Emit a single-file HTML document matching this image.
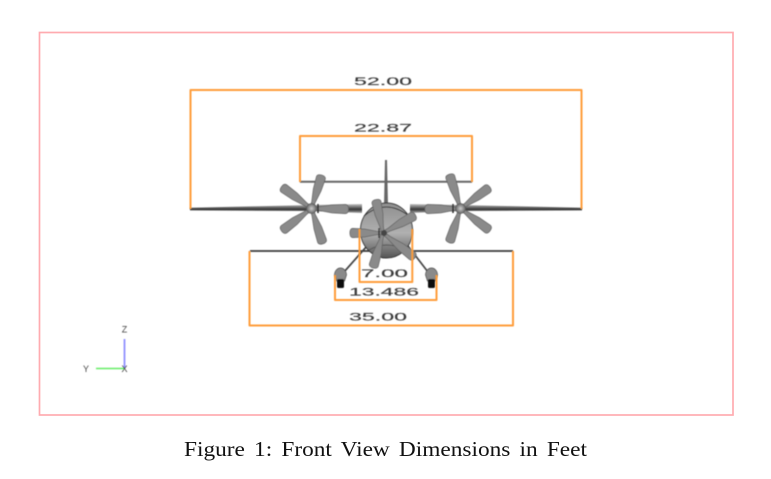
<!DOCTYPE html>
<html>
<head>
<meta charset="utf-8">
<style>
html,body{margin:0;padding:0;background:#fff;width:771px;height:479px;overflow:hidden}
svg{display:block}
.d{font-family:"Liberation Sans",sans-serif;font-size:11px;fill:#3a3a3a;stroke:#3a3a3a;stroke-width:.15}
.o{fill:none;stroke:#ff9d3a;stroke-width:2;stroke-linejoin:round}
</style>
</head>
<body>
<svg width="771" height="479" viewBox="0 0 771 479" xmlns="http://www.w3.org/2000/svg">
<defs>
<filter id="s" x="-5%" y="-5%" width="110%" height="110%"><feGaussianBlur stdDeviation="0.4"/></filter>
<radialGradient id="hub"><stop offset="0" stop-color="#ccc"/><stop offset="1" stop-color="#666"/></radialGradient>
<linearGradient id="fus" x1="0" y1="0" x2="0" y2="1"><stop offset="0" stop-color="#8f8f8f"/><stop offset=".55" stop-color="#b0b0b0"/><stop offset="1" stop-color="#555"/></linearGradient>
<linearGradient id="wing" x1="0" y1="0" x2="0" y2="1"><stop offset="0" stop-color="#c4c4c4"/><stop offset=".6" stop-color="#333"/><stop offset="1" stop-color="#aaa"/></linearGradient>
<path id="blade" d="M0,-1.500L7,-1.800L20,-4L33,-4.600Q36,-4.400 36,0Q36,4.400 33,4.600L20,4L7,1.800L0,1.500Z" fill="#8a8a8a" stroke="#606060" stroke-width=".7"/>
</defs>

<rect x="39.500" y="32.500" width="693.500" height="382.500" fill="#fff" stroke="#ffabb0" stroke-width="1.700"/>

<g filter="url(#s)">
<path d="M385 160h2l1 46h-4z" fill="#666"/>
<line x1="300" y1="181.800" x2="472" y2="181.800" stroke="#666" stroke-width="2"/>
<path d="M190 207.800L311 205L362 204V213L311 211L190 210.400ZM582 207.800L461 205L410 204V213L461 211L582 210.400Z" fill="url(#wing)"/>
<line x1="250" y1="251" x2="513" y2="251" stroke="#3a3a3a" stroke-width="1.800"/>

<line x1="367" y1="246" x2="344" y2="272" stroke="#444" stroke-width="1.700"/>
<line x1="408" y1="246" x2="428" y2="272" stroke="#444" stroke-width="1.700"/>
<path d="M334.500 275a6 7 0 0 1 12 0l-2 6h-8z" fill="#8a8a8a" stroke="#444" stroke-width=".7"/>
<rect x="337" y="279" width="7" height="9" rx="1.500" fill="#111"/>
<path d="M425.500 275a6 7 0 0 1 12 0l-2 6h-8z" fill="#8a8a8a" stroke="#444" stroke-width=".7"/>
<rect x="428" y="279" width="7" height="9" rx="1.500" fill="#111"/>

<ellipse cx="386.500" cy="230.500" rx="26" ry="27.500" fill="url(#fus)" stroke="#333" stroke-width="1"/>
<path d="M364 216Q386 198 409 216" fill="none" stroke="#333" stroke-width="1"/>
<path d="M369 250Q386 240 406 250" fill="none" stroke="#555" stroke-width="1"/>

<use href="#blade" transform="translate(311.500 208.500) rotate(-73) scale(.97 1)"/>
<use href="#blade" transform="translate(311.500 208.500) rotate(-144) scale(1.030 1)"/>
<use href="#blade" transform="translate(311.500 208.500) rotate(143) scale(1.040 1)"/>
<use href="#blade" transform="translate(311.500 208.500) rotate(72) scale(1.030 1)"/>
<use href="#blade" transform="translate(311.500 208.500) rotate(1) scale(1.030 1)"/>
<line x1="318" y1="204" x2="318" y2="213" stroke="#222" stroke-width="1.500"/>
<circle cx="311.500" cy="208.500" r="5" fill="url(#hub)" stroke="#555" stroke-width=".6"/>

<use href="#blade" transform="translate(460.500 208.500) rotate(-108) scale(1 1)"/>
<use href="#blade" transform="translate(460.500 208.500) rotate(-36) scale(1.010 1)"/>
<use href="#blade" transform="translate(460.500 208.500) rotate(37) scale(1.030 1)"/>
<use href="#blade" transform="translate(460.500 208.500) rotate(108) scale(1 1)"/>
<use href="#blade" transform="translate(460.500 208.500) rotate(179) scale(.99 1)"/>
<line x1="453" y1="204" x2="453" y2="213" stroke="#222" stroke-width="1.500"/>
<circle cx="460.500" cy="208.500" r="5" fill="url(#hub)" stroke="#555" stroke-width=".6"/>

<use href="#blade" transform="translate(383 233) rotate(-102) scale(.95 1)"/>
<use href="#blade" transform="translate(383 233) rotate(-29) scale(1.030 1)"/>
<use href="#blade" transform="translate(383 233) rotate(38) scale(1.120 1)"/>
<use href="#blade" transform="translate(383 233) rotate(106) scale(1.010 1)"/>
<use href="#blade" transform="translate(383 233) rotate(180) scale(.92 1)"/>
<line x1="379" y1="228" x2="379" y2="238" stroke="#222" stroke-width="1.300"/>
<circle cx="384" cy="233" r="3" fill="#444"/>
</g>

<g filter="url(#s)">
<path class="o" d="M190.500 209V90H581.500V209"/>
<path class="o" d="M300 182V136H472V182"/>
<path class="o" d="M249.500 251V325.500H513V251"/>
<path class="o" d="M335 275V300H436.500V275"/>
<path class="o" d="M359.500 229V282H412.300V229"/>
</g>

<g filter="url(#s)">
<text class="d" x="354" y="85" textLength="58" lengthAdjust="spacingAndGlyphs">52.00</text>
<text class="d" x="354" y="131.500" textLength="58" lengthAdjust="spacingAndGlyphs">22.87</text>
<text class="d" x="361" y="277" textLength="47" lengthAdjust="spacingAndGlyphs">7.00</text>
<text class="d" x="349" y="295.500" textLength="70" lengthAdjust="spacingAndGlyphs">13.486</text>
<text class="d" x="349" y="320.500" textLength="58" lengthAdjust="spacingAndGlyphs">35.00</text>
</g>

<g filter="url(#s)">
<line x1="96" y1="368.500" x2="124" y2="368.500" stroke="#66ee66" stroke-width="1.500"/>
<line x1="124.500" y1="339" x2="124.500" y2="368" stroke="#9090ff" stroke-width="1.800"/>
<text x="124.500" y="332.500" text-anchor="middle" font-family="Liberation Sans,sans-serif" font-size="9" fill="#444">Z</text>
<text x="86" y="372" text-anchor="middle" font-family="Liberation Sans,sans-serif" font-size="9" fill="#444">Y</text>
<text x="124.500" y="372" text-anchor="middle" font-family="Liberation Sans,sans-serif" font-size="9" fill="#333">X</text>
</g>

<text x="184" y="456" font-family="Liberation Serif,serif" font-size="21" word-spacing="3" fill="#111" textLength="403" lengthAdjust="spacingAndGlyphs">Figure 1: Front View Dimensions in Feet</text>
</svg>
</body>
</html>
